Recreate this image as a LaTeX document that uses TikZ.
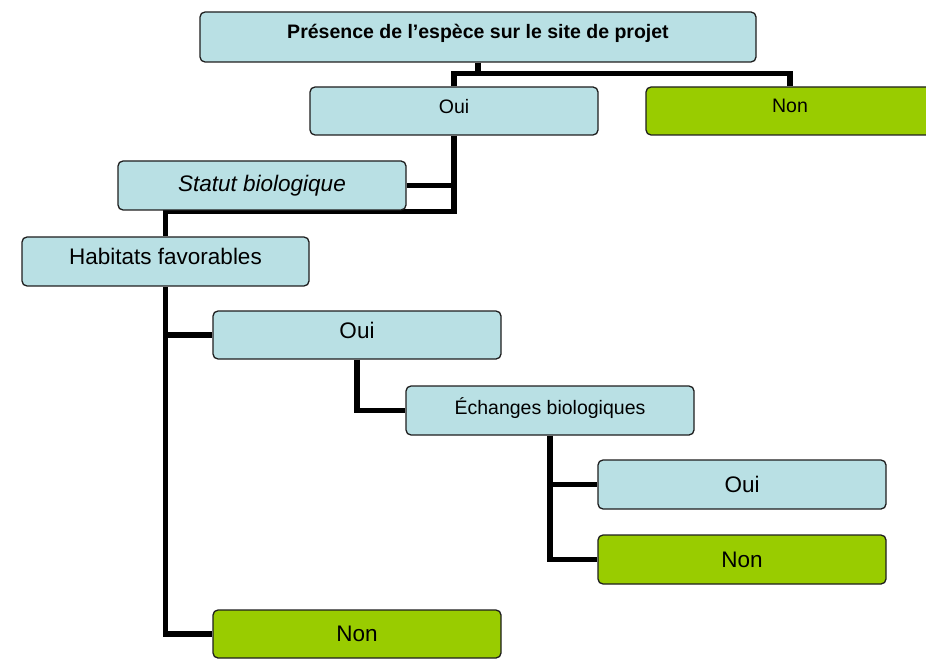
\documentclass[tikz,border=0pt]{standalone}
\usepackage{fontspec}
\setmainfont{Liberation Sans}
\usepackage{tikz}
\usetikzlibrary{positioning, backgrounds, calc}
\definecolor{paleblue}{RGB}{185, 224, 228}
\definecolor{limegreen}{RGB}{153, 204, 0}
\definecolor{boxline}{RGB}{30, 30, 30}

\begin{document}
\begin{tikzpicture}[x=1pt, y=-1pt,
    box/.style={draw=boxline, line width=1.3pt, rounded corners=5pt, inner sep=0pt,
                minimum width=288pt, minimum height=49pt, align=center},
    yesbox/.style={box, fill=paleblue},
    nobox/.style={box, fill=limegreen},
    small/.style={font=\fontsize{19.5}{23}\selectfont},
    large/.style={font=\fontsize{22.5}{26}\selectfont},
    lifted/.style={text depth=#1},
    link/.style={line width=5.5pt, black, line join=miter}]
            \useasboundingbox (0,0) rectangle (926,660);

            % niveau 1
            \node[yesbox, small, lifted=11pt, minimum width=556pt, minimum height=50pt] (presence) at (478,37) {\textbf{Présence de l’espèce sur le site de projet}};
            \node[yesbox, small, lifted=10pt, minimum height=48pt] (oui1) at (454,111) {Oui};
            \node[nobox, small, lifted=10pt, minimum height=48pt] (non1) at (790,111) {Non};

            % niveau 2
            \node[yesbox, large] (statut) at (262,185.5) {\textit{Statut biologique}};
            \node[yesbox, large, lifted=11pt, minimum width=287pt] (habitats) at (165.5,261.5) {Habitats favorables};
            \node[yesbox, large, lifted=10pt, minimum height=48pt] (oui2) at (357,335) {Oui};
            \node[nobox, large, minimum height=48pt] (non3) at (357,634) {Non};

            % niveau 3
            \node[yesbox, small, lifted=8pt] (echanges) at (550,410.5) {Échanges biologiques};
            \node[yesbox, large] (oui3) at (742,484.5) {Oui};
            \node[nobox, large] (non2) at (742,559.5) {Non};

            \begin{scope}[on background layer]
                \draw[link] (presence.south) -- ++(0,11);
                \draw[link] (oui1.north) |- ($(presence.south)+(0,11)$) -| (non1.north);
                \draw[link] (oui1.south) |- ($(statut.south)+(0,1)$) -| (habitats.north);
                \draw[link] (statut.east) -- (statut.east -| oui1.south);
                \draw[link] (habitats.south) |- (non3.west);
                \draw[link] (habitats.south |- oui2.west) -- (oui2.west);
                \draw[link] (oui2.south) |- (echanges.west);
                \draw[link] (echanges.south) |- (non2.west);
                \draw[link] (echanges.south |- oui3.west) -- (oui3.west);
            \end{scope}
        \end{tikzpicture}
\end{document}
